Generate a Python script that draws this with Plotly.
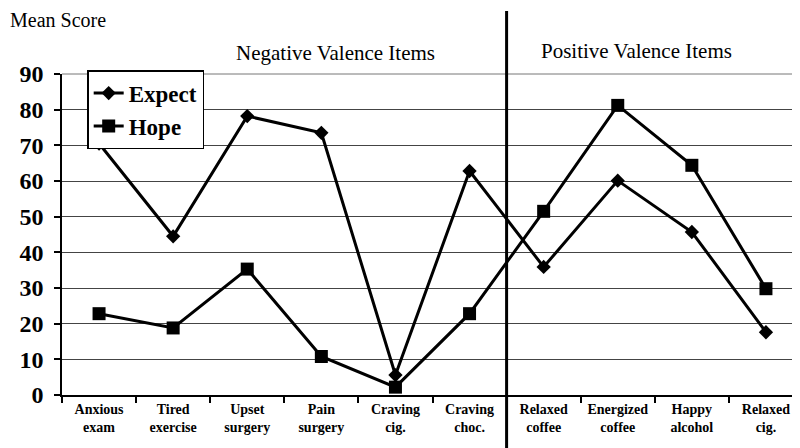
import plotly.graph_objects as go

categories = ["Anxious<br>exam", "Tired<br>exercise", "Upset<br>surgery", "Pain<br>surgery",
              "Craving<br>cig.", "Craving<br>choc.", "Relaxed<br>coffee", "Energized<br>coffee",
              "Happy<br>alcohol", "Relaxed<br>cig."]
expect = [70.5, 44.5, 78.2, 73.5, 5.6, 62.8, 35.9, 60.1, 45.7, 17.6]
hope = [22.8, 18.8, 35.3, 10.8, 2.2, 22.8, 51.5, 81.2, 64.4, 29.8]
y_ticks = [0, 10, 20, 30, 40, 50, 60, 70, 80, 90]

x = list(range(len(categories)))
serif = "Liberation Serif"

fig = go.Figure()
fig.add_trace(go.Scatter(x=x, y=expect, name="<b>Expect</b>", mode="lines+markers",
                         line=dict(color="black", width=3),
                         marker=dict(symbol="diamond", size=11, color="black")))
fig.add_trace(go.Scatter(x=x, y=hope, name="<b>Hope</b>", mode="lines+markers",
                         line=dict(color="black", width=3),
                         marker=dict(symbol="square", size=13, color="black")))

boundaries = [i - 0.5 for i in range(len(categories) + 1)]

fig.update_layout(
    width=800, height=448,
    margin=dict(l=54, r=5, t=66, b=61),
    plot_bgcolor="white", paper_bgcolor="white",
    font=dict(family=serif, color="black"),
    showlegend=True,
    legend=dict(x=0.034, y=1.012, xanchor="left", yanchor="top",
                bgcolor="white", bordercolor="black", borderwidth=1.5,
                font=dict(family=serif, size=23, color="black"),
                tracegroupgap=0, itemwidth=30),
    xaxis=dict(range=[-0.5, 9.5], tickvals=x, ticktext=[f"<b>{c}</b>" for c in categories],
               ticks="", showgrid=False, zeroline=False,
               showline=True, linecolor="black", linewidth=1.5,
               tickfont=dict(family=serif, size=14, color="black"),
               minor=dict(tickvals=boundaries, ticks="outside", ticklen=6,
                          tickcolor="black", tickwidth=1.5, showgrid=False),
               mirror=False),
    yaxis=dict(range=[0, 90], tickvals=y_ticks, ticktext=[f"<b>{v}</b>" for v in y_ticks],
               ticks="outside", ticklen=6, tickcolor="black", tickwidth=1.5,
               ticklabelstandoff=6,
               showgrid=True, gridcolor="#444", gridwidth=1, zeroline=False,
               showline=True, linecolor="black", linewidth=1.5,
               tickfont=dict(family=serif, size=24, color="black")),
)

# plot-area border on top/right (Excel style)
fig.add_shape(type="line", xref="paper", yref="paper", x0=0, x1=1, y0=1, y1=1,
              line=dict(color="#777", width=1))
fig.add_shape(type="line", xref="paper", yref="paper", x0=1, x1=1, y0=0, y1=1,
              line=dict(color="#777", width=1))

# vertical divider between negative and positive items
fig.add_shape(type="line", xref="x", yref="paper", x0=5.5, x1=5.5, y0=-0.18, y1=1.196,
              line=dict(color="black", width=3))

fig.add_annotation(text="Mean Score", xref="paper", yref="paper", x=0, xshift=-54, y=1.167,
                   xanchor="left", yanchor="middle", showarrow=False,
                   font=dict(family=serif, size=20, color="black"))
fig.add_annotation(text="Negative Valence Items", xref="x", yref="paper", x=3.19, y=1.066,
                   xanchor="center", yanchor="middle", showarrow=False,
                   font=dict(family=serif, size=21, color="black"))
fig.add_annotation(text="Positive Valence Items", xref="x", yref="paper", x=7.25, y=1.072,
                   xanchor="center", yanchor="middle", showarrow=False,
                   font=dict(family=serif, size=21, color="black"))

fig.write_html("out.html")
